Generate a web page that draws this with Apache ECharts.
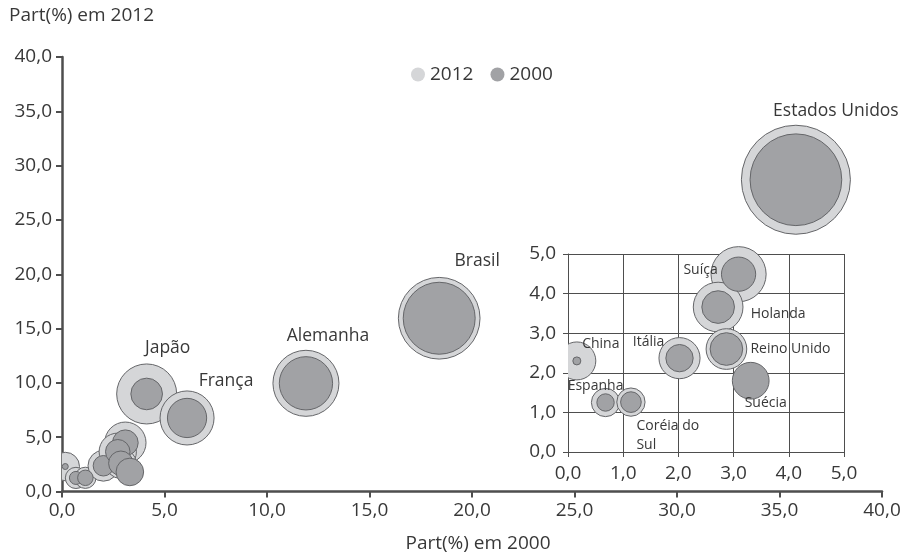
<!DOCTYPE html>
<html><head><meta charset="utf-8">
<script src="https://cdn.jsdelivr.net/npm/echarts@6/dist/echarts.min.js"></script>
<style>html,body{margin:0;padding:0;background:#fff}#c{width:909px;height:552px}</style>
</head><body><div id="c"></div>
<script>
// ---- data ----
const countries = ['Estados Unidos','Brasil','Alemanha','Japão','França','China','Espanha','Coréia do Sul','Itália','Suíça','Holanda','Reino Unido','Suécia'];
const part2000 = [35.8, 18.4, 11.9, 4.13, 6.1, 0.16, 0.68, 1.14, 2.02, 3.09, 2.72, 2.87, 3.31];
const part2012 = [28.7, 15.95, 9.96, 8.98, 6.77, 2.3, 1.25, 1.26, 2.37, 4.49, 3.66, 2.6, 1.8];
const bubble2012 = [118.8, 66.7, 43.6, 36, 29.2, 8.1, 4.5, 4.5, 9.5, 17.1, 13.9, 9.3, 5.1];
const bubble2000 = [84.1, 51.8, 28.4, 10, 15.4, 0.36, 1.7, 2.4, 4.2, 6.6, 6.0, 6.0, 7.6];
const legendNames = ['2012', '2000'];
const mainRange = [0, 40];
const insetRange = [0, 5];
const xAxisTitle = 'Part(%) em 2000';
const yAxisTitle = 'Part(%) em 2012';

// ---- presentation ----
const FONT = '"Open Sans", "Noto Sans", sans-serif';
const C_LIGHT = '#d5d6d8', C_DARK = '#a1a2a5', C_STROKE = '#656669', C_TEXT = '#383838', C_AXIS = '#4e4e4e';
const SCALE_MAIN = 10, SCALE_INSET = 13.33;
const FS = 19;
// label offsets relative to bubble centre [dx, dy, align]
const mainLabelOffsets = {'Estados Unidos':[40,-69],'Brasil':[38,-57],'Alemanha':[22,-47],'Japão':[21,-46],'França':[39,-37]};
const insetLabelOffsets = {'Suíça':[-38,-4],'Holanda':[60,7],'Reino Unido':[64,0],'Suécia':[15,22],'Itália':[-31,-16],'China':[24,-17],'Espanha':[-10,-16],'Coréia do Sul':[5.5,33,'left']};
const insetLabelText = {'Coréia do Sul':'Coréia do\nSul'};

const inInset = i => part2000[i] <= insetRange[1] && part2012[i] <= insetRange[1];
const fmt = v => v.toFixed(1).replace('.', ',');

function bubbleSeries(name, g, sizes, fill, scale, filter) {
  const data = [];
  countries.forEach((c, i) => { if (filter(i)) data.push([part2000[i], part2012[i], sizes[i], i]); });
  return {
    type: 'custom', name, coordinateSystem: 'cartesian2d', xAxisIndex: g, yAxisIndex: g,
    clip: false, itemStyle: {color: fill}, encode: {x: 0, y: 1}, data,
    renderItem(params, api) {
      const p = api.coord([api.value(0), api.value(1)]);
      const r = Math.sqrt(api.value(2)) * scale / 2;
      const cs = params.coordSys;
      return {
        type: 'circle', shape: {cx: p[0], cy: p[1], r},
        style: {fill, stroke: C_STROKE, lineWidth: 1},
        clipPath: {type: 'rect', shape: {x: cs.x, y: cs.y - 100, width: cs.width + 100, height: cs.height + 200}}
      };
    }
  };
}
function labelSeries(g, offsets, texts, fontSize) {
  const data = [];
  countries.forEach((c, i) => { if (offsets[c]) data.push([part2000[i], part2012[i], i]); });
  return {
    type: 'custom', coordinateSystem: 'cartesian2d', xAxisIndex: g, yAxisIndex: g, clip: false,
    encode: {x: 0, y: 1}, data, z: 5,
    renderItem(params, api) {
      const c = countries[api.value(2)];
      const p = api.coord([api.value(0), api.value(1)]);
      const o = offsets[c];
      return {
        type: 'text', x: p[0] + o[0], y: p[1] + o[1],
        style: {text: texts[c] || c, fill: C_TEXT, font: fontSize + 'px ' + FONT,
          align: o[2] || 'center', verticalAlign: 'middle', lineHeight: 19}
      };
    }
  };
}
function axis(g, range, interval, main) {
  return {
    type: 'value', gridIndex: g, min: range[0], max: range[1], interval,
    axisLine: {show: true, lineStyle: {color: C_AXIS, width: main ? 2.5 : 1}},
    axisTick: {show: true, length: main ? 6 : 5, lineStyle: {color: C_AXIS, width: main ? 2 : 1}},
    axisLabel: {formatter: fmt, color: C_TEXT, fontFamily: FONT, fontSize: FS, margin: main ? 10 : 12},
    splitLine: {show: !main, lineStyle: {color: C_AXIS, width: 1}}
  };
}

const option = {
  animation: false,
  backgroundColor: '#fff',
  textStyle: {fontFamily: FONT},
  grid: [
    {left: 62, right: 27, top: 57, bottom: 60.5, containLabel: false, outerBoundsMode: 'none'},
    {left: 568, right: 65, top: 254, bottom: 100, containLabel: false, outerBoundsMode: 'none'}
  ],
  xAxis: [
    Object.assign(axis(0, mainRange, 5, true), {name: xAxisTitle, nameLocation: 'middle', nameGap: 43,
      nameTextStyle: {color: C_TEXT, fontFamily: FONT, fontSize: FS, padding: [0, 0, 0, 12]}}),
    axis(1, insetRange, 1, false)
  ],
  yAxis: [axis(0, mainRange, 5, true), axis(1, insetRange, 1, false)],
  legend: {
    data: [{name: legendNames[0], itemStyle: {color: C_LIGHT, borderWidth: 0}},
           {name: legendNames[1], itemStyle: {color: C_DARK, borderWidth: 0}}],
    icon: 'circle', left: 406, top: 60, itemWidth: 14, itemHeight: 14, itemGap: 17,
    textStyle: {color: C_TEXT, fontFamily: FONT, fontSize: FS}
  },
  graphic: [{type: 'text', left: 9, top: 6, style: {text: yAxisTitle, fill: C_TEXT, font: FS + 'px ' + FONT}}],
  series: [
    bubbleSeries(legendNames[0], 0, bubble2012, C_LIGHT, SCALE_MAIN, () => true),
    bubbleSeries(legendNames[1], 0, bubble2000, C_DARK, SCALE_MAIN, () => true),
    labelSeries(0, mainLabelOffsets, {}, 17.5),
    bubbleSeries(legendNames[0], 1, bubble2012, C_LIGHT, SCALE_INSET, inInset),
    bubbleSeries(legendNames[1], 1, bubble2000, C_DARK, SCALE_INSET, inInset),
    labelSeries(1, insetLabelOffsets, insetLabelText, 14)
  ]
};
echarts.init(document.getElementById('c'), null, {renderer: 'canvas'}).setOption(option);
</script></body></html>
